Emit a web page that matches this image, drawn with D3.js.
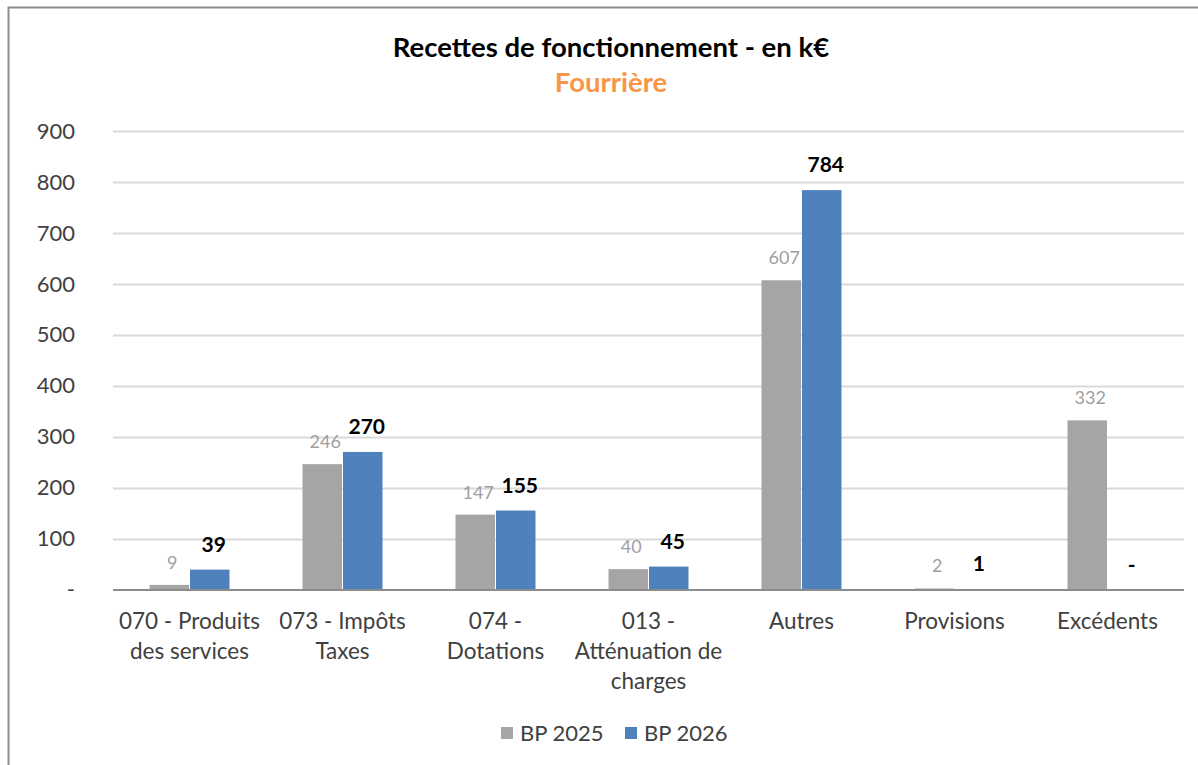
<!DOCTYPE html>
<html>
<head>
<meta charset="utf-8">
<script src="https://cdn.jsdelivr.net/npm/d3@7"></script>
<style>
  body { margin: 0; background: #fff; }
  svg { font-family: Lato, "Open Sans", sans-serif; }
</style>
</head>
<body>
<div id="chart"></div>
<script>
// Data
const categories = [
    ["070 - Produits", "des services"],
    ["073 - Impôts", "Taxes"],
    ["074 -", "Dotations"],
    ["013 -", "Atténuation de", "charges"],
    ["Autres"],
    ["Provisions"],
    ["Excédents"]
];
const seriesNames = ["BP 2025", "BP 2026"];
const bp2025 = [9, 246, 147, 40, 607, 2, 332];
const bp2026 = [39, 270, 155, 45, 784, 1, 0];
const yTicks = [0, 100, 200, 300, 400, 500, 600, 700, 800, 900];
const colors = ["#a5a5a5", "#4f81bd"];

const width = 1198, height = 765;
const margin = {top: 131, right: 14, bottom: 176, left: 113};

const svg = d3.select("#chart")
    .append("svg")
    .attr("width", width)
    .attr("height", height);

// frame
svg.append("path")
    .attr("d", `M8.5,${height}V7.5H${width}`)
    .attr("fill", "none")
    .attr("stroke", "#8c8c8c")
    .attr("stroke-width", 2);

const x = d3.scaleBand()
    .domain(d3.range(categories.length))
    .range([margin.left, width - margin.right])
    .paddingInner(0)
    .paddingOuter(0);

const x1 = d3.scaleBand()
    .domain([0, 1])
    .range([0, 80])
    .paddingInner(0.025);

const y = d3.scaleLinear()
    .domain([0, 900])
    .range([height - margin.bottom - 0.5 + 1, margin.top]);

// grid
svg.append("g")
    .selectAll("line")
    .data(yTicks.filter(d => d > 0))
    .join("line")
    .attr("x1", margin.left)
    .attr("x2", width - margin.right)
    .attr("y1", d => Math.round(y(d)) + 0.5)
    .attr("y2", d => Math.round(y(d)) + 0.5)
    .attr("stroke", "#d9d9d9")
    .attr("stroke-width", 2);

// y tick labels
svg.append("g")
    .selectAll("text")
    .data(yTicks)
    .join("text")
    .attr("x", 75)
    .attr("y", d => y(d))
    .attr("dy", "0.35em")
    .attr("text-anchor", "end")
    .attr("fill", "#404040")
    .style("font-size", "22px")
    .text(d => d === 0 ? "-" : d);

// bars
const series = [bp2025, bp2026];
const groups = svg.append("g")
    .selectAll("g")
    .data(categories.map((c, i) => i))
    .join("g")
    .attr("transform", i => `translate(${x(i) + (x.bandwidth() - 80) / 2},0)`);

groups.selectAll("rect")
    .data(i => series.map((s, k) => ({k, v: s[i]})))
    .join("rect")
    .attr("x", d => x1(d.k))
    .attr("width", x1.bandwidth())
    .attr("y", d => y(d.v))
    .attr("height", d => y(0) - y(d.v))
    .attr("fill", d => colors[d.k]);

// value labels
groups.selectAll("text")
    .data(i => series.map((s, k) => ({k, v: s[i]})))
    .join("text")
    .attr("x", d => x1(d.k) + x1.bandwidth() / 2 + (d.k === 1 ? 4 : 3))
    .attr("y", d => y(d.v) - (d.k === 1 ? 18 : 16))
    .attr("text-anchor", "middle")
    .attr("fill", d => d.k === 1 ? "#000" : "#a0a0a0")
    .style("font-size", d => d.k === 1 ? "21px" : "18px")
    .style("font-weight", d => d.k === 1 ? "bold" : "normal")
    .text(d => d.v === 0 ? "-" : d.v);

// x axis line
svg.append("line")
    .attr("x1", margin.left)
    .attr("x2", width - margin.right)
    .attr("y1", y(0) + 0.5)
    .attr("y2", y(0) + 0.5)
    .attr("stroke", "#8c8c8c")
    .attr("stroke-width", 2);

// category labels
svg.append("g")
    .selectAll("text")
    .data(categories)
    .join("text")
    .attr("text-anchor", "middle")
    .attr("fill", "#404040")
    .style("font-size", "22.5px")
    .each(function(lines, i) {
        d3.select(this).selectAll("tspan")
            .data(lines)
            .join("tspan")
            .attr("x", x(i) + x.bandwidth() / 2)
            .attr("y", (d, j) => 629 + j * 30)
            .text(d => d);
    });

// title
svg.append("text")
    .attr("x", 611)
    .attr("y", 57)
    .attr("text-anchor", "middle")
    .style("font-size", "27.5px")
    .style("font-weight", "bold")
    .attr("fill", "#000")
    .text("Recettes de fonctionnement  - en k€");

svg.append("text")
    .attr("x", 611)
    .attr("y", 92)
    .attr("text-anchor", "middle")
    .style("font-size", "27.5px")
    .style("font-weight", "bold")
    .attr("fill", "#f79646")
    .text("Fourrière");

// legend
const legend = svg.append("g")
    .selectAll("g")
    .data(seriesNames)
    .join("g")
    .attr("transform", (d, i) => `translate(${501 + i * 124},727)`);

legend.append("rect")
    .attr("width", 12)
    .attr("height", 12)
    .attr("fill", (d, i) => colors[i]);

legend.append("text")
    .attr("x", 19)
    .attr("y", 6)
    .attr("dy", "0.35em")
    .attr("fill", "#404040")
    .style("font-size", "22px")
    .text(d => d);
</script>
</body>
</html>
